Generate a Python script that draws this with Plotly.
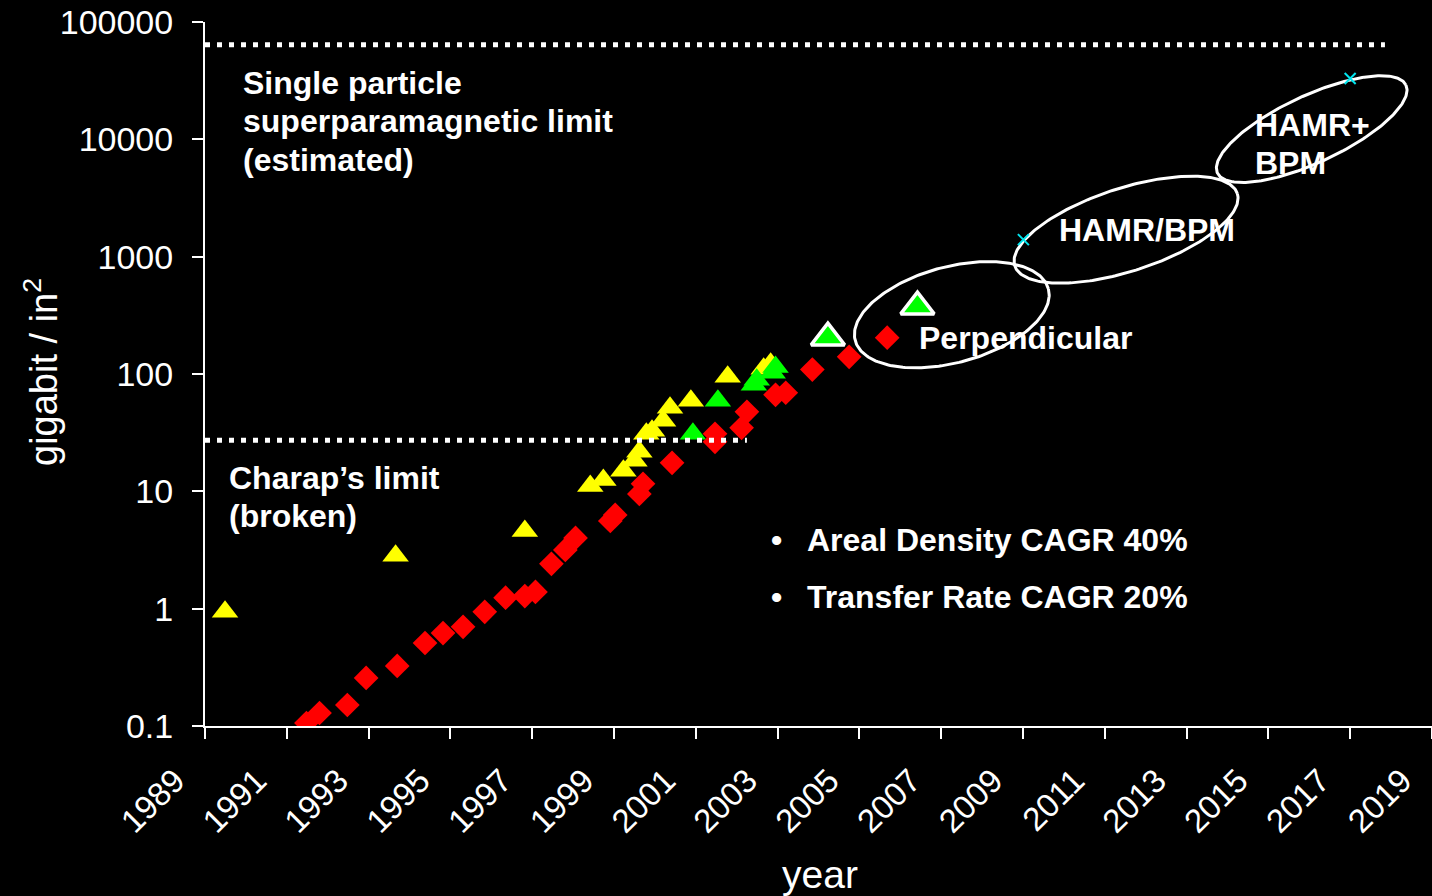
import numpy as np
import plotly.graph_objects as go

# ---------------- data ----------------
# longitudinal recording (red diamonds)
red_year = [1991.48, 1991.80, 1992.48, 1992.94, 1993.70, 1994.38, 1994.82, 1995.31,
            1995.84, 1996.35, 1996.82, 1997.08, 1997.47, 1997.81, 1998.06, 1998.91,
            1999.03, 1999.62, 1999.71, 2000.42, 2001.47, 2001.47, 2002.12, 2002.25,
            2002.95, 2003.20, 2003.85, 2004.75, 2005.68]
red_density = [0.106, 0.129, 0.151, 0.257, 0.325, 0.51, 0.62, 0.70,
               0.94, 1.24, 1.28, 1.39, 2.41, 3.17, 4.01, 5.6,
               6.3, 9.5, 11.6, 17.5, 30.9, 26.4, 34.8, 47.6,
               66.5, 69.2, 109, 140, 204]

# lab demonstrations (yellow triangles)
yellow_year = [1989.49, 1993.66, 1996.82, 1998.42, 1998.74, 1999.23, 1999.50, 1999.62,
               1999.79, 1999.93, 2000.20, 2000.37, 2000.88, 2001.78, 2002.66, 2002.83]
yellow_density = [0.94, 2.82, 4.6, 11.1, 12.5, 15.0, 18.2, 21.7,
                  30.9, 32.8, 39.9, 51.5, 59.1, 94.8, 111, 122]

# perpendicular demos (green triangles)
green_year = [2000.93, 2001.54, 2002.42, 2002.49, 2002.88, 2002.95]
green_density = [30.9, 59.1, 80.9, 89.3, 102.5, 115]

# highlighted perpendicular demos (large outlined green triangles)
green_big_year = [2004.23, 2006.42]
green_big_density = [204, 375]

# projections (cyan crosses)
cyan_year = [2009.01, 2017.0]
cyan_density = [1397, 33000]

# limits (dotted horizontal lines)
sp_limit = 64000
sp_limit_years = [1989, 2017.85]
charap_limit = 27.2
charap_limit_years = [1989, 2002.25]

# technology regions: centre year, centre density, semi-axes (px), tilt (deg)
region_year = [2007.26, 2011.52, 2016.06]
region_density = [320, 1698, 12220]
region_a = [100, 117, 104]
region_b = [48, 41.5, 33.5]
region_tilt = [15, 18, 25]

x_ticks = list(range(1989, 2020, 2))
y_ticks = [0.1, 1, 10, 100, 1000, 10000, 100000]
y_ticktext = ["0.1", "1", "10", "100", "1000", "10000", "100000"]

# ---------------- layout geometry ----------------
W, H = 1432, 896
ML, MR, MT, MB = 205, 0, 22, 170
PW, PH = W - ML - MR, H - MT - MB
X_RANGE = [1989, 2019.001]
Y_RANGE = [-1, 5]
px_per_year = PW / (X_RANGE[1] - X_RANGE[0])
px_per_dec = PH / (Y_RANGE[1] - Y_RANGE[0])

FONT = "Arial, Liberation Sans, sans-serif"
WHITE = "#ffffff"

fig = go.Figure()

# tilted ellipses around technology regions
t = np.linspace(0, 2 * np.pi, 241)
for cx, cy, a, b, ang in zip(region_year, region_density, region_a, region_b, region_tilt):
    th = np.deg2rad(ang)
    dx = a * np.cos(t) * np.cos(th) - b * np.sin(t) * np.sin(th)
    dy = a * np.cos(t) * np.sin(th) + b * np.sin(t) * np.cos(th)
    ex = cx + dx / px_per_year
    ey = 10 ** (np.log10(cy) + dy / px_per_dec)
    fig.add_trace(go.Scatter(x=ex, y=ey, mode="lines",
                             line=dict(color=WHITE, width=3), hoverinfo="skip"))

fig.add_trace(go.Scatter(x=yellow_year, y=yellow_density, mode="markers",
                         marker=dict(symbol="triangle-up", size=23, color="#ffff00",
                                     line=dict(width=0))))
fig.add_trace(go.Scatter(x=green_year, y=green_density, mode="markers",
                         marker=dict(symbol="triangle-up", size=23, color="#00ff00",
                                     line=dict(width=0))))
fig.add_trace(go.Scatter(x=red_year, y=red_density, mode="markers",
                         marker=dict(symbol="diamond", size=19, color="#ff0000",
                                     line=dict(width=0))))
fig.add_trace(go.Scatter(x=green_big_year, y=green_big_density, mode="markers",
                         marker=dict(symbol="triangle-up", size=29, color="#00ff00",
                                     line=dict(width=3.5, color=WHITE))))
fig.add_trace(go.Scatter(x=cyan_year, y=cyan_density, mode="markers",
                         marker=dict(symbol="x-thin", size=11,
                                     line=dict(width=2, color="#00e5ee"))))

# dotted limit lines
for xs, lvl in ((sp_limit_years, sp_limit), (charap_limit_years, charap_limit)):
    fig.add_trace(go.Scatter(x=xs, y=[lvl, lvl], mode="lines",
                             line=dict(color=WHITE, width=5, dash="5px,7px"),
                             hoverinfo="skip"))


def px_to_paper(px, py):
    return (px - ML) / PW, (H - MB - py) / PH


# text labels: (text, left x px, centre y px)
labels = [
    ("Single particle", 241, 83),
    ("superparamagnetic limit", 241, 121),
    ("(estimated)", 241, 160),
    ("Charap\u2019s limit", 227, 478),
    ("(broken)", 227, 516),
    ("Perpendicular", 917, 338),
    ("HAMR/BPM", 1057, 230),
    ("HAMR+", 1253, 125),
    ("BPM", 1253, 163),
    ("Areal Density CAGR 40%", 805, 540),
    ("Transfer Rate CAGR 20%", 805, 597),
]
annotations = []
for txt, lx, cy in labels:
    xp, yp = px_to_paper(lx, cy)
    annotations.append(dict(text=f"<b>{txt}</b>", x=xp, y=yp, xref="paper", yref="paper",
                            xanchor="left", yanchor="middle", showarrow=False,
                            font=dict(family=FONT, size=32, color=WHITE)))
for cy in (540, 597):
    xp, yp = px_to_paper(776, cy)
    annotations.append(dict(text="<b>\u2022</b>", x=xp, y=yp, xref="paper", yref="paper",
                            xanchor="center", yanchor="middle", showarrow=False,
                            font=dict(family=FONT, size=32, color=WHITE)))

# axis titles
xp, yp = px_to_paper(41, 372)
annotations.append(dict(text="gigabit / in<sup>2</sup>", x=xp, y=yp, xref="paper",
                        yref="paper", xanchor="center", yanchor="middle", textangle=-90,
                        showarrow=False, font=dict(family=FONT, size=38, color=WHITE)))
xp, yp = px_to_paper(820, 874)
annotations.append(dict(text="year", x=xp, y=yp, xref="paper", yref="paper",
                        xanchor="center", yanchor="middle", showarrow=False,
                        font=dict(family=FONT, size=39, color=WHITE)))

axis_common = dict(showgrid=False, zeroline=False, showline=True, linecolor=WHITE,
                   linewidth=2, ticks="outside", ticklen=11, tickwidth=2,
                   tickcolor=WHITE)

fig.update_layout(
    width=W, height=H,
    margin=dict(l=ML, r=MR, t=MT, b=MB, pad=0),
    paper_bgcolor="#000000", plot_bgcolor="#000000",
    showlegend=False, hovermode=False,
    xaxis=dict(range=X_RANGE, tickvals=x_ticks, tickangle=-45, ticklabelshift=-30,
               ticklabelstandoff=9, tickfont=dict(family=FONT, size=33, color=WHITE),
               **axis_common),
    yaxis=dict(type="log", range=Y_RANGE, tickvals=y_ticks, ticktext=y_ticktext,
               ticklabelstandoff=12, tickfont=dict(family=FONT, size=34, color=WHITE),
               **axis_common),
    annotations=annotations,
)

fig.write_html("out.html")
